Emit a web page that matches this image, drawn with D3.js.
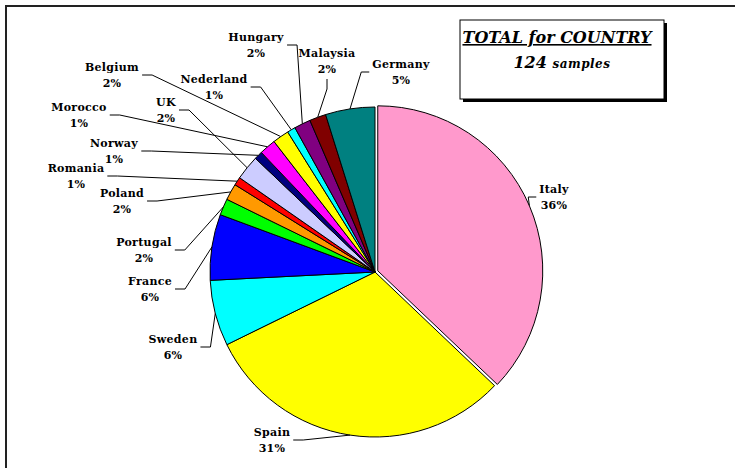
<!DOCTYPE html>
<html>
<head>
<meta charset="utf-8">
<script src="https://cdn.jsdelivr.net/npm/d3@7"></script>
<style>
  body { margin: 0; background: #fff; }
  svg { display: block; }
</style>
</head>
<body>
<div id="chart"></div>
<script>
const chartWidth = 735
const chartHeight = 468

// data, clockwise from 12 o'clock
const countries = ['Italy', 'Spain', 'Sweden', 'France', 'Portugal', 'Poland', 'Romania', 'UK',
  'Norway', 'Morocco', 'Belgium', 'Nederland', 'Hungary', 'Malaysia', 'Germany']
const samples = [46, 38, 8, 8, 2, 2, 1, 3, 1, 2, 2, 1, 2, 2, 6]
const percentLabels = ['36%', '31%', '6%', '6%', '2%', '2%', '1%', '2%', '1%', '1%', '2%', '1%', '2%', '2%', '5%']
const sliceColors = ['#ff99cc', '#ffff00', '#00ffff', '#0000ff', '#00ff00', '#ff9900', '#ff0000', '#ccccff',
  '#000080', '#ff00ff', '#ffff00', '#00ffff', '#800080', '#800000', '#008080']

// layout: centre of each two-line label (x, mid y)
const labelPos = [[554, 197], [272, 440], [173, 347], [150, 289], [144, 250], [122, 201], [76, 176], [166, 110],
  [114, 151], [79, 115], [112, 75], [214, 87], [256, 45], [327, 61], [401, 72]]

const cx = 375
const cy = 272
const radius = 165
const explode = 3 // Italy is pulled out a little

const svg = d3.select('#chart').append('svg')
  .attr('width', chartWidth)
  .attr('height', chartHeight)

// outer frame (only top and left edges are in view)
svg.append('rect')
  .attr('x', 6).attr('y', 6)
  .attr('width', 1000).attr('height', 1000)
  .attr('fill', 'none')
  .attr('stroke', '#222')
  .attr('stroke-width', 2)

const pie = d3.pie().sort(null).value(d => d)
const arcs = pie(samples)
const arc = d3.arc().innerRadius(0).outerRadius(radius)

function offsetFor(i) {
  if (i !== 0) return [0, 0]
  const a = (arcs[i].startAngle + arcs[i].endAngle) / 2
  return [explode * Math.sin(a), -explode * Math.cos(a)]
}

const pieG = svg.append('g').attr('transform', `translate(${cx},${cy})`)

pieG.selectAll('path')
  .data(arcs)
  .enter()
  .append('path')
  .attr('d', arc)
  .attr('transform', (d, i) => `translate(${offsetFor(i)})`)
  .attr('fill', (d, i) => sliceColors[i])
  .attr('stroke', '#000')
  .attr('stroke-width', 1)
  .attr('stroke-linejoin', 'round')

// labels
const labelG = svg.append('g')
  .style('font-family', '"DejaVu Serif", serif')
  .style('font-weight', 'bold')
  .style('font-size', '11px')
  .style('letter-spacing', '0.3px')
  .attr('fill', '#000')

arcs.forEach((d, i) => {
  const [lx, ly] = labelPos[i]
  const t = labelG.append('text').attr('text-anchor', 'middle')
  t.append('tspan').attr('x', lx).attr('y', ly - 4).text(countries[i])
  t.append('tspan').attr('x', lx).attr('y', ly + 12).text(percentLabels[i])
  const box = t.node().getBBox()

  // point on the slice edge at its middle angle
  const a = (d.startAngle + d.endAngle) / 2
  const off = offsetFor(i)
  const px = cx + off[0] + radius * Math.sin(a)
  const py = cy + off[1] - radius * Math.cos(a)

  let pts
  if (Math.abs(px - lx) < 12) {
    // straight down from under the label
    const sy = box.y + box.height + 3
    pts = [[lx, sy], [lx, sy + 10], [px, py]]
  } else if (px > lx) {
    const sx = box.x + box.width + 3
    pts = [[sx, ly], [sx + 10, ly], [px, py]]
  } else {
    const sx = box.x - 3
    pts = [[sx, ly], [sx - 8, ly], [px, py]]
  }
  svg.append('path')
    .attr('d', d3.line()(pts))
    .attr('fill', 'none')
    .attr('stroke', '#000')
    .attr('stroke-width', 1)
})

// title box with shadow
const boxX = 460, boxY = 20, boxW = 204, boxH = 79
svg.append('rect')
  .attr('x', boxX + 3).attr('y', boxY + 3)
  .attr('width', boxW).attr('height', boxH)
  .attr('fill', '#000')
svg.append('rect')
  .attr('x', boxX).attr('y', boxY)
  .attr('width', boxW).attr('height', boxH)
  .attr('fill', '#fff')
  .attr('stroke', '#000')
  .attr('stroke-width', 1)

const titleG = svg.append('g')
  .style('font-family', '"DejaVu Serif", serif')
  .style('font-weight', 'bold')
  .style('font-style', 'italic')
  .attr('fill', '#000')
titleG.append('text')
  .attr('x', 557).attr('y', 43)
  .attr('text-anchor', 'middle')
  .style('font-size', '16px')
  .style('text-decoration', 'underline')
  .text('TOTAL for COUNTRY')
const sub = titleG.append('text')
  .attr('x', boxX + boxW / 2).attr('y', 68)
  .attr('text-anchor', 'middle')
sub.append('tspan').style('font-size', '16px').text('124 ')
sub.append('tspan').style('font-size', '12px').style('letter-spacing', '0.5px').text('samples')
</script>
</body>
</html>
